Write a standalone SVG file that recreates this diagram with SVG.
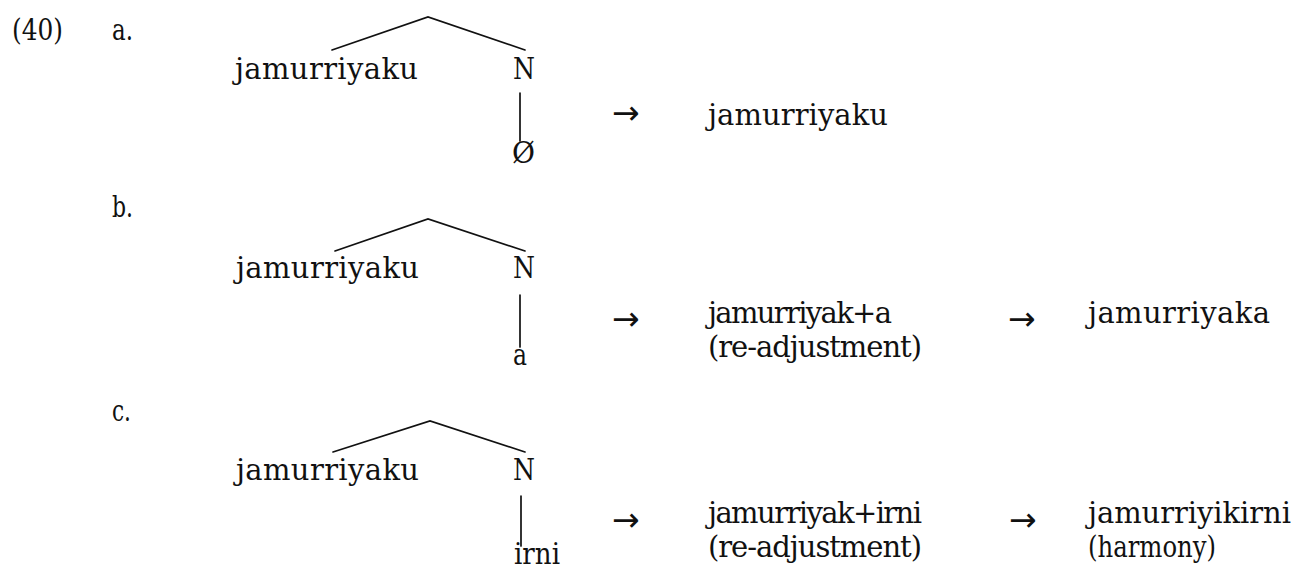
<svg xmlns="http://www.w3.org/2000/svg" width="1310" height="571" viewBox="0 0 1310 571">
<style>
text{font-family:"DejaVu Serif","Liberation Serif",serif;font-size:29px;fill:#111}
text.arr{font-family:"DejaVu Sans","Liberation Sans",sans-serif;font-size:33px}
.edge{stroke:#111;stroke-width:1.7;fill:none;stroke-linecap:round}
</style>
<rect width="1310" height="571" fill="#fff"/>
<g id="connectors">
<polyline class="edge" points="332,50 428,17 525,50"/>
<line class="edge" x1="520" y1="93" x2="520" y2="141"/>
<polyline class="edge" points="335,251 428,219 525,251"/>
<line class="edge" x1="520" y1="295" x2="520" y2="347"/>
<polyline class="edge" points="333,452 430,421 525,452"/>
<line class="edge" x1="521" y1="496" x2="521" y2="546"/>
</g>
<g id="example-number"><text x="12" y="40" textLength="51" lengthAdjust="spacingAndGlyphs">(40)</text></g>
<g id="label-a"><text x="112" y="40" textLength="21" lengthAdjust="spacingAndGlyphs">a.</text></g>
<g id="label-b"><text x="112" y="217" textLength="21" lengthAdjust="spacingAndGlyphs">b.</text></g>
<g id="label-c"><text x="112" y="421" textLength="19" lengthAdjust="spacingAndGlyphs">c.</text></g>

<g id="a-stem"><text x="235" y="79" textLength="183">jamurriyaku</text></g>
<g id="a-N"><text x="513" y="79" textLength="22" lengthAdjust="spacingAndGlyphs">N</text></g>
<g id="a-null"><text x="512" y="163" textLength="23" lengthAdjust="spacingAndGlyphs">Ø</text></g>
<g id="a-arrow1"><text class="arr" x="612" y="124">→</text></g>
<g id="a-result"><text x="708" y="125" textLength="180">jamurriyaku</text></g>

<g id="b-stem"><text x="236" y="278" textLength="183">jamurriyaku</text></g>
<g id="b-N"><text x="513" y="278" textLength="22" lengthAdjust="spacingAndGlyphs">N</text></g>
<g id="b-suffix"><text x="513" y="365" textLength="14" lengthAdjust="spacingAndGlyphs">a</text></g>
<g id="b-arrow1"><text class="arr" x="612" y="330">→</text></g>
<g id="b-readjust"><text x="708" y="323" textLength="184">jamurriyak+a</text><text x="708" y="357" textLength="214">(re-adjustment)</text></g>
<g id="b-arrow2"><text class="arr" x="1008" y="330">→</text></g>
<g id="b-result"><text x="1088" y="323" textLength="182">jamurriyaka</text></g>

<g id="c-stem"><text x="236" y="480" textLength="183">jamurriyaku</text></g>
<g id="c-N"><text x="513" y="480" textLength="22" lengthAdjust="spacingAndGlyphs">N</text></g>
<g id="c-suffix"><text x="514" y="564" textLength="46" lengthAdjust="spacingAndGlyphs">irni</text></g>
<g id="c-arrow1"><text class="arr" x="612" y="531">→</text></g>
<g id="c-readjust"><text x="708" y="523" textLength="214">jamurriyak+irni</text><text x="708" y="557" textLength="214">(re-adjustment)</text></g>
<g id="c-arrow2"><text class="arr" x="1009" y="531">→</text></g>
<g id="c-result"><text x="1088" y="523" textLength="203">jamurriyikirni</text><text x="1088" y="557" textLength="128" lengthAdjust="spacingAndGlyphs">(harmony)</text></g>
</svg>
